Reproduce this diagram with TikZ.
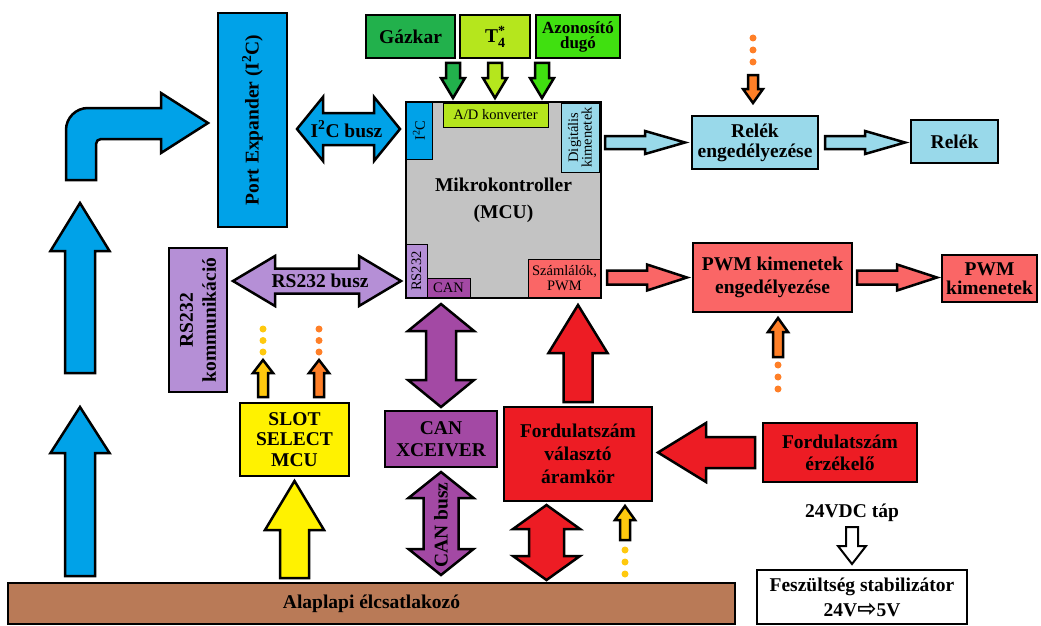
\documentclass[tikz,border=0pt]{standalone}
\usepackage{fontspec}
\setmainfont{Liberation Serif}
\newfontfamily\symfont{DejaVu Sans}
\usetikzlibrary{positioning, calc}

\definecolor{kek}{RGB}{0,162,232}
\definecolor{vkek}{RGB}{153,217,234}
\definecolor{szurke}{RGB}{195,195,195}
\definecolor{szold}{RGB}{34,177,76}
\definecolor{ksarga}{RGB}{181,230,29}
\definecolor{vzold}{RGB}{64,224,16}
\definecolor{lila}{RGB}{181,143,214}
\definecolor{bibor}{RGB}{163,73,164}
\definecolor{piros}{RGB}{237,28,36}
\definecolor{rozsa}{RGB}{250,102,102}
\definecolor{sarga}{RGB}{255,242,0}
\definecolor{barna}{RGB}{185,122,87}
\definecolor{narancs}{RGB}{255,127,39}
\definecolor{arany}{RGB}{255,201,14}

\tikzset{%
  blk/.style={draw, line width=2.5pt, outer sep=0pt, inner sep=1pt, align=center,
    font=\bfseries\fontsize{19.5}{22}\selectfont},
  prt/.style={draw, line width=1pt, outer sep=0pt, inner sep=0pt, align=center,
    font=\fontsize{14.5}{15}\selectfont},
  felirat/.style={inner sep=0pt, font=\bfseries\fontsize{19.5}{22}\selectfont},
  shaft/.store in=\ashaft, headw/.store in=\aheadw, headl/.store in=\aheadl,
  gapa/.store in=\agapa, gapb/.store in=\agapb,
  shaft=7pt, headw=12pt, headl=20pt, gapa=0pt, gapb=0pt,
  kicsi/.style={shaft=5pt, headw=10pt, headl=13pt},
  fat/.style={draw=black, line width=2.5pt, fill=#1,
    to path={let \p1=($(\tikztostart)!\agapa!(\tikztotarget)$),
                 \p2=($(\tikztotarget)!\agapb!(\tikztostart)$),
                 \p3=($(\p2)!\aheadl!(\p1)$) in
      ($(\p1)!\ashaft!90:(\p2)$) -- ($(\p3)!\ashaft!-90:(\p1)$)
      -- ($(\p3)!\aheadw!-90:(\p1)$) -- (\p2)
      -- ($(\p3)!\aheadw!90:(\p1)$) -- ($(\p3)!\ashaft!90:(\p1)$)
      -- ($(\p1)!\ashaft!-90:(\p2)$) -- cycle}},
  fatdbl/.style={draw=black, line width=2.5pt, fill=#1,
    to path={let \p1=($(\tikztostart)!\agapa!(\tikztotarget)$),
                 \p2=($(\tikztotarget)!\agapb!(\tikztostart)$),
                 \p3=($(\p2)!\aheadl!(\p1)$),
                 \p4=($(\p1)!\aheadl!(\p2)$) in
      (\p1) -- ($(\p4)!\aheadw!90:(\p2)$) -- ($(\p4)!\ashaft!90:(\p2)$)
      -- ($(\p3)!\ashaft!-90:(\p1)$) -- ($(\p3)!\aheadw!-90:(\p1)$) -- (\p2)
      -- ($(\p3)!\aheadw!90:(\p1)$) -- ($(\p3)!\ashaft!90:(\p1)$)
      -- ($(\p4)!\ashaft!-90:(\p2)$) -- ($(\p4)!\aheadw!-90:(\p2)$) -- cycle}}
}

\begin{document}
\begin{tikzpicture}[x=1pt, y=-1pt]
\useasboundingbox (0,0) rectangle (1041,626);

% bemenetek
\node[blk, fill=szold, minimum width=89pt, minimum height=43pt] (gaz) at (410.5,36.5) {Gázkar};
\node[blk, fill=ksarga, minimum width=70pt, minimum height=43pt, right=5pt of gaz] (tnegy)
  {T\rlap{\raisebox{-5pt}{\fontsize{14}{14}\selectfont 4}}\raisebox{7pt}{\fontsize{14}{14}\selectfont *}};
\node[blk, fill=vzold, minimum width=84pt, minimum height=43pt, right=6pt of tnegy,
  font=\bfseries\fontsize{17}{15}\selectfont] (azon) {Azonosító\\dugó};

% MCU
\node[blk, fill=szurke, minimum width=195pt, minimum height=196pt,
  font=\bfseries\fontsize{19.5}{27}\selectfont] (mcu) at (503.5,200) {Mikrokontroller\\(MCU)};
\node[prt, fill=kek, rotate=90, minimum width=57pt, minimum height=26pt] (pi2c) at (419,130.5) {I\textsuperscript{2}C};
\node[prt, fill=ksarga, minimum width=105pt, minimum height=24pt] (pad) at (495.5,115) {A/D konverter};
\node[prt, fill=vkek, rotate=90, minimum width=69pt, minimum height=38pt,
  font=\fontsize{14.5}{13.5}\selectfont] (pdig) at (580,137.5) {Digitális\\kimenetek};
\node[prt, fill=lila, rotate=90, minimum width=54pt, minimum height=21pt] (prs) at (416.5,271) {RS232};
\node[prt, fill=bibor, minimum width=43pt, minimum height=20pt] (pcan) at (448.5,288) {CAN};
\node[prt, fill=rozsa, minimum width=73pt, minimum height=39pt] (pszam) at (564.5,278.5) {Számlálók,\\PWM};
\draw[line width=2.5pt] (mcu.south west) rectangle (mcu.north east);

% bal oldal
\node[blk, fill=kek, rotate=90, minimum width=214pt, minimum height=69pt] (port) at (252.5,120) {Port Expander (I\textsuperscript{2}C)};
\node[blk, fill=lila, rotate=90, minimum width=144pt, minimum height=58pt,
  font=\bfseries\fontsize{19.5}{23}\selectfont] (rskom) at (198,320) {RS232\\kommunikáció};
\node[blk, fill=sarga, minimum width=109pt, minimum height=73pt,
  font=\bfseries\fontsize{19.5}{20.5}\selectfont] (slot) at (294.5,439.5) {SLOT\\SELECT\\MCU};
\node[blk, fill=bibor, minimum width=112pt, minimum height=56pt] (canx) at (441,439) {CAN\\XCEIVER};
\node[blk, fill=piros, minimum width=148pt, minimum height=94pt,
  font=\bfseries\fontsize{19.5}{23}\selectfont] (ford) at (578,454) {Fordulatszám\\választó\\áramkör};
\node[blk, fill=piros, minimum width=154pt, minimum height=59pt] (ferz) at (840,452.5) {Fordulatszám\\érzékelő};

% jobb oldal
\node[blk, fill=vkek, minimum width=126pt, minimum height=53pt,
  font=\bfseries\fontsize{19.5}{20}\selectfont] (releng) at (755,142.5) {Relék\\engedélyezése};
\node[blk, fill=vkek, minimum width=87pt, minimum height=43pt] (rele) at (954.5,141.5) {Relék};
\node[blk, fill=rozsa, minimum width=159pt, minimum height=69pt,
  font=\bfseries\fontsize{19.5}{23}\selectfont] (pwmeng) at (772.5,277.5) {PWM kimenetek\\engedélyezése};
\node[blk, fill=rozsa, minimum width=95pt, minimum height=47pt,
  font=\bfseries\fontsize{19.5}{19}\selectfont] (pwmki) at (989.5,278.5) {PWM\\kimenetek};
\node[felirat] (tap) at (852,513) {24VDC táp};
\node[blk, fill=white, minimum width=210pt, minimum height=54pt,
  font=\bfseries\fontsize{19.5}{25}\selectfont] (fesz) at (862,597)
  {Feszültség stabilizátor\\24V{\symfont\bfseries\fontsize{23}{23}\selectfont ⇨}5V};
\node[blk, fill=barna, minimum width=727pt, minimum height=41pt] (alap) at (371.5,603.5) {Alaplapi élcsatlakozó};

% bemenetek -> A/D
\coordinate (gz) at ([xshift=-2pt]gaz.south east);
\coordinate (az) at ([xshift=6pt]azon.south west);
\path[fat=szold, gapa=5pt, gapb=4pt] (gz) to (gz |- mcu.north);
\path[fat=ksarga, gapa=5pt, gapb=4pt] (tnegy.south) to (tnegy.south |- mcu.north);
\path[fat=vzold, gapa=5pt, gapb=4pt] (az) to (az |- mcu.north);

% buszok
\coordinate (ia) at ([yshift=-9pt]port.south);
\path[fatdbl=kek, shaft=16pt, headw=32pt, headl=26pt, gapa=10pt, gapb=6pt] (ia) to (ia -| mcu.west);
\node[felirat] (i2cbusz) at ($(ia)!.5!(ia -| mcu.west)$) {I\textsuperscript{2}C busz};
\coordinate (ra) at ([yshift=39pt]rskom.south);
\path[fatdbl=lila, shaft=12.5pt, headw=25pt, headl=42pt, gapa=6pt, gapb=5pt] (ra) to (ra -| mcu.west);
\node[felirat] (rsbusz) at ($(ra)!.52!(ra -| mcu.west)$) {RS232 busz};
\path[fatdbl=bibor, shaft=15pt, headw=33pt, headl=27pt, gapa=4pt, gapb=6pt] (canx.north) to (canx.north |- mcu.south);
\path[fatdbl=bibor, shaft=17.5pt, headw=32.5pt, headl=26pt, gapa=5pt, gapb=8pt] (canx.south) to (canx.south |- alap.north);
\node[felirat, rotate=90] (canbusz) at ($(canx.south)!.5!(canx.south |- alap.north)$) {CAN busz};

% kek lanc
\coordinate (k1) at ([xshift=72pt]alap.north west);
\coordinate (k2) at ([yshift=176pt]k1);
\coordinate (k3) at ([yshift=34pt]k2);
\coordinate (k4) at ([yshift=170pt]k3);
\path[fat=kek, shaft=15pt, headw=29.5pt, headl=46pt, gapa=7pt] (k1) to (k2);
\path[fat=kek, shaft=15pt, headw=29.5pt, headl=48pt] (k3) to (k4);
\draw[line width=2.5pt, fill=kek] (66,180) [rounded corners=22pt] -- (66,108) [sharp corners] -- (161,108)
  -- (161,93) -- (208,123) -- (161,153) -- (161,139) [rounded corners=5pt] -- (96,139) [sharp corners] -- (96,180) -- cycle;

% slot select
\path[fat=sarga, shaft=14.5pt, headw=29.5pt, headl=49pt, gapa=5pt, gapb=5pt] (slot.south |- alap.north) to (slot.south);
\coordinate (sy) at ([xshift=23pt]slot.north west);
\coordinate (so) at ([xshift=79pt]slot.north west);
\path[fat=arany, kicsi, gapa=6pt] (sy) to ([yshift=43pt]sy);
\path[fat=narancs, kicsi, gapa=6pt] (so) to ([yshift=43pt]so);
\foreach \d in {51,62.5,74} {
  \fill[arany] ([yshift=\d pt]sy) circle (3.5pt);
  \fill[narancs] ([yshift=\d pt]so) circle (3.5pt);
}

% fordulatszam
\path[fat=piros, shaft=14.5pt, headw=29.5pt, headl=48pt, gapa=5pt, gapb=7pt] (ford.north) to (ford.north |- mcu.south);
\coordinate (fa) at ([xshift=-31.5pt]ford.south);
\path[fatdbl=piros, shaft=17.5pt, headw=33.5pt, headl=24pt, gapa=4pt, gapb=3pt] (fa) to (fa |- alap.north);
\coordinate (fy) at ([xshift=47pt]ford.south);
\coordinate (fyt) at ([yshift=-39pt]fy);
\path[fat=arany, kicsi, headl=14pt, gapb=5pt] (fyt) to (fy);
\foreach \d in {10,22,34} \fill[arany] ([yshift=-\d pt]fyt) circle (3.5pt);
\path[fat=piros, shaft=15.5pt, headw=29.5pt, headl=48pt, gapa=8pt, gapb=6pt] (ferz.west) to (ferz.west -| ford.east);

% kimenetek
\path[fat=vkek, shaft=6.5pt, headw=11.5pt, headl=40pt, gapa=4pt, gapb=7pt] (mcu.east |- releng.west) to (releng.west);
\path[fat=vkek, shaft=6.5pt, headw=11.5pt, headl=40pt, gapa=7pt, gapb=6pt] (releng.east) to (releng.east -| rele.west);
\path[fat=rozsa, shaft=7pt, headw=13pt, headl=40pt, gapa=6pt, gapb=6pt] (mcu.east |- pwmeng.west) to (pwmeng.west);
\path[fat=rozsa, shaft=7pt, headw=13pt, headl=40pt, gapa=5pt, gapb=5pt] (pwmeng.east) to (pwmeng.east -| pwmki.west);
\coordinate (ro) at ([xshift=-2pt]releng.north);
\coordinate (rot) at ([yshift=41pt]ro);
\path[fat=narancs, kicsi, headl=14pt, gapb=13pt] (rot) to (ro);
\foreach \d in {13,25,37} \fill[narancs] ([yshift=\d pt]rot) circle (3.5pt);
\coordinate (po) at ([xshift=5.5pt]pwmeng.south);
\coordinate (pot) at ([yshift=-45pt]po);
\path[fat=narancs, kicsi, headl=14pt, gapb=6pt] (pot) to (po);
\foreach \d in {8,20,32} \fill[narancs] ([yshift=-\d pt]pot) circle (3.5pt);

% tap
\path[fat=white, line width=2pt, shaft=6pt, headw=14pt, headl=18pt, gapa=5pt, gapb=6pt] (tap.south) to (tap.south |- fesz.north);
\end{tikzpicture}
\end{document}
